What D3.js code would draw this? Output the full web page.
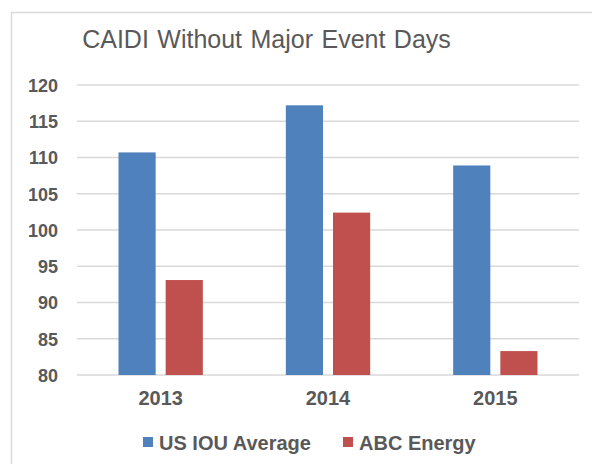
<!DOCTYPE html>
<html>
<head>
<meta charset="utf-8">
<script src="https://cdn.jsdelivr.net/npm/d3@7"></script>
<style>
  html, body { margin: 0; padding: 0; background: #fff; }
  svg { display: block; }
  text { font-family: "Liberation Sans", Arial, sans-serif; fill: #595959; }
</style>
</head>
<body>
<svg id="chart" width="592" height="464"></svg>
<script>
const categories = ["2013", "2014", "2015"];
const seriesNames = ["US IOU Average", "ABC Energy"];
const usIouAverage = [110.7, 117.2, 108.9];
const abcEnergy = [93.1, 102.4, 83.3];
const yTicks = [80, 85, 90, 95, 100, 105, 110, 115, 120];
const colors = ["#4f81bd", "#c0504d"];
const titleText = "CAIDI Without Major Event Days";

const svg = d3.select("#chart");

// chart frame
svg.append("rect")
  .attr("x", 11.5).attr("y", 12.5)
  .attr("width", 600).attr("height", 470)
  .attr("fill", "#fff").attr("stroke", "#d9d9d9").attr("stroke-width", 1.5);

const plot = { left: 77, right: 579, top: 85, bottom: 375 };

const x0 = d3.scaleBand().domain(categories).range([plot.left, plot.right]).paddingInner(0).paddingOuter(0);
const x1 = d3.scaleBand().domain(seriesNames)
  .range([41.5, x0.bandwidth() - 41.5]).paddingInner(0.212).paddingOuter(0);
const y = d3.scaleLinear().domain([80, 120]).range([plot.bottom, plot.top]);

// gridlines
svg.append("g").selectAll("line").data(yTicks).join("line")
  .attr("x1", plot.left).attr("x2", plot.right)
  .attr("y1", d => y(d)).attr("y2", d => y(d))
  .attr("stroke", "#d9d9d9").attr("stroke-width", 1.5);

// y axis labels
const yAxis = d3.axisLeft(y).tickValues(yTicks).tickSize(0).tickPadding(0);
const gy = svg.append("g").attr("transform", `translate(58,0)`).call(yAxis);
gy.select(".domain").remove();
gy.selectAll("text")
  .attr("font-size", 18).attr("font-weight", "bold")
  .style("font-family", '"Liberation Sans", Arial, sans-serif')
  .attr("fill", "#595959").attr("dy", "0.35em");

// x axis labels
const xAxis = d3.axisBottom(x0).tickSize(0).tickPadding(0);
const gx = svg.append("g").attr("transform", `translate(0,391)`).call(xAxis);
gx.select(".domain").remove();
gx.selectAll("text")
  .attr("font-size", 20).attr("font-weight", "bold")
  .style("font-family", '"Liberation Sans", Arial, sans-serif')
  .attr("fill", "#595959").attr("dy", "0.71em");

// bars
const data = categories.map((c, i) => ({ cat: c, vals: [usIouAverage[i], abcEnergy[i]] }));
const groups = svg.append("g").selectAll("g").data(data).join("g")
  .attr("transform", d => `translate(${x0(d.cat)},0)`);
groups.selectAll("rect").data(d => d.vals.map((v, j) => ({ name: seriesNames[j], v, j })))
  .join("rect")
  .attr("x", d => x1(d.name))
  .attr("width", x1.bandwidth())
  .attr("y", d => y(d.v))
  .attr("height", d => y(80) - y(d.v))
  .attr("fill", d => colors[d.j]);

// title
svg.append("text")
  .attr("x", 266.5).attr("y", 48)
  .attr("text-anchor", "middle")
  .attr("font-size", 25)
  .attr("word-spacing", 1.5)
  .text(titleText);

// legend
const legendItems = [
  { name: seriesNames[0], color: colors[0], x: 143 },
  { name: seriesNames[1], color: colors[1], x: 343 }
];
const lg = svg.append("g").selectAll("g").data(legendItems).join("g")
  .attr("transform", d => `translate(${d.x},437)`);
lg.append("rect").attr("width", 10).attr("height", 10).attr("fill", d => d.color);
lg.append("text").attr("x", 16).attr("y", 13)
  .attr("font-size", 20).attr("font-weight", "bold")
  .text(d => d.name);
</script>
</body>
</html>
